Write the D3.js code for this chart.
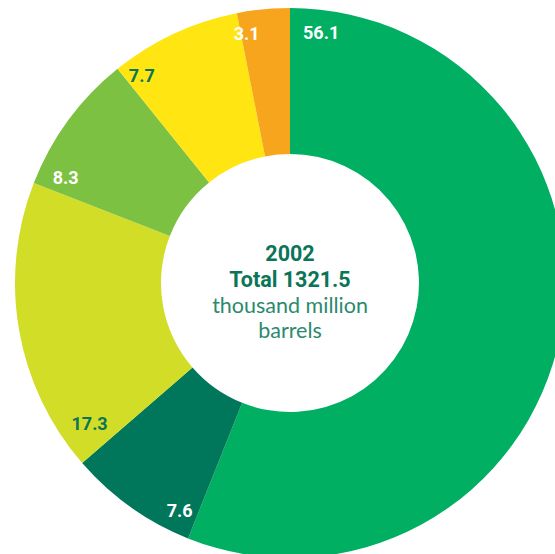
<!DOCTYPE html>
<html><head><meta charset="utf-8">
<script src="https://cdn.jsdelivr.net/npm/d3@7"></script>
<style>html,body{margin:0;padding:0;background:#fff;overflow:hidden}</style>
</head><body>
<svg id="c" width="555" height="554"></svg>
<script>
// Data
const categories = ["A","B","C","D","E","F"];
const shares = [56.1, 7.6, 17.3, 8.3, 7.7, 3.1];
const labels = ["56.1","7.6","17.3","8.3","7.7","3.1"];
const centerLines = ["2002","Total 1321.5","thousand million","barrels"];

// Styles
const colors = ["#00AF62","#00765A","#D1DD27","#7DC143","#FFE511","#F8A51E"];
const labelColors = ["#ffffff","#ffffff","#0B7558","#ffffff","#0B7558","#ffffff"];
// label angle offset within slice (degrees from slice start) and radius
const labelOffsetDeg = [7.1, 4.1, 5.8, 3.9, 3.3, 1.3];
const labelRadius = [252, 253, 245, 248, 255, 253];

const cx = 290, cy = 283, R = 275, r0 = 129;
const svg = d3.select("#c");
const g = svg.append("g").attr("transform", `translate(${cx},${cy})`);

const pie = d3.pie().sort(null).value(d => d)(shares);
const arc = d3.arc().innerRadius(r0).outerRadius(R);

g.selectAll("path.s").data(pie).join("path")
  .attr("class","s")
  .attr("d", arc)
  .attr("fill", (d,i) => colors[i]);

g.selectAll("text.l").data(pie).join("text")
  .attr("class","l")
  .attr("x", (d,i) => labelRadius[i]*Math.sin(d.startAngle + labelOffsetDeg[i]*Math.PI/180))
  .attr("y", (d,i) => -labelRadius[i]*Math.cos(d.startAngle + labelOffsetDeg[i]*Math.PI/180))
  .attr("text-anchor","middle")
  .attr("dominant-baseline","central")
  .attr("font-family","Roboto, sans-serif")
  .attr("font-weight","bold")
  .attr("font-size", 18)
  .attr("fill", (d,i) => labelColors[i])
  .text((d,i) => labels[i]);

const ct = g.append("g").attr("text-anchor","middle");
const ys = [-30, -4, 22, 47];
centerLines.forEach((t,i) => {
  ct.append("text")
    .attr("x", 0).attr("y", ys[i])
    .attr("dominant-baseline","central")
    .attr("font-family", i < 2 ? "Roboto, sans-serif" : "Lato, 'Open Sans', sans-serif")
    .attr("font-size", i < 2 ? 21.5 : 21.5)
    .attr("font-weight", i < 2 ? "bold" : "normal")
    .attr("fill", i < 2 ? "#0B7558" : "#2A8A6E")
    .text(t);
});
</script>
</body></html>
